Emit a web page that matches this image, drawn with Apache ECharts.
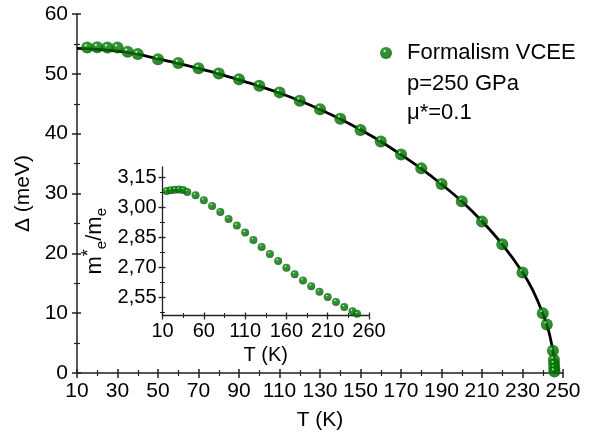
<!DOCTYPE html>
<html>
<head>
<meta charset="utf-8">
<script src="https://cdn.jsdelivr.net/npm/echarts@6/dist/echarts.min.js"></script>
<style>
html,body{margin:0;padding:0;background:#fff;}
#c{width:595px;height:434px;}
</style>
</head>
<body>
<div id="c"></div>
<script>
// ---- Main panel: gap Delta(T) ----
var mainT = [15, 20, 25, 30, 35, 40, 50, 60, 70, 80, 90, 100, 110, 120, 130, 140, 150, 160, 170, 180, 190, 200, 210, 220, 230, 240, 242, 245, 245.5, 245.6, 245.7, 245.75];
var mainDelta = [54.4, 54.45, 54.4, 54.4, 53.7, 53.3, 52.45, 51.8, 50.95, 50.05, 49.1, 48.0, 46.9, 45.5, 44.1, 42.5, 40.6, 38.7, 36.5, 34.2, 31.6, 28.7, 25.3, 21.5, 16.8, 10.0, 8.1, 3.7, 2.2, 1.5, 0.8, 0.25];

// ---- Fitted curve ----
var fitT = [10, 20, 30, 40, 50, 60, 70, 80, 90, 100, 110, 120, 130, 140, 150, 160, 170, 180, 190, 200, 210, 220, 230, 235, 240, 243, 245, 245.5, 245.8];
var fitDelta = [54.25, 54.1, 53.8, 53.3, 52.5, 51.75, 50.9, 50.0, 49.0, 47.95, 46.8, 45.5, 44.05, 42.45, 40.65, 38.7, 36.5, 34.15, 31.55, 28.7, 25.35, 21.5, 16.85, 13.9, 10.0, 6.9, 3.7, 2.3, 0];

// ---- Inset: effective mass ratio ----
var insetT = [15, 20, 25, 30, 35, 40, 50, 60, 70, 80, 90, 100, 110, 120, 130, 140, 150, 160, 170, 180, 190, 200, 210, 220, 230, 240, 245.5];
var insetMass = [3.081, 3.084, 3.087, 3.088, 3.086, 3.076, 3.059, 3.034, 3.006, 2.976, 2.941, 2.908, 2.873, 2.836, 2.801, 2.766, 2.731, 2.698, 2.666, 2.635, 2.606, 2.578, 2.552, 2.527, 2.502, 2.481, 2.469];

// ---- Tick labels ----
var insetYLabels = [2.55, 2.70, 2.85, 3.00, 3.15];
var insetYMinor = [2.475, 2.625, 2.775, 2.925, 3.075];

var FONT = "'Liberation Sans', Arial, sans-serif";
var AX = '#222';

function sphere() {
  return {
    type: 'radial', x: 0.38, y: 0.32, r: 0.72,
    colorStops: [
      {offset: 0, color: '#ffffff'},
      {offset: 0.07, color: '#c8e8c8'},
      {offset: 0.17, color: '#007e00'},
      {offset: 0.6, color: '#007000'},
      {offset: 1, color: '#004c00'}
    ]
  };
}

function pairs(xs, ys) {
  return xs.map(function (x, i) { return [x, ys[i]]; });
}

function baseAxis(o) {
  return Object.assign({
    type: 'value',
    splitLine: {show: false},
    axisLine: {show: true, lineStyle: {color: AX, width: 1.5}},
    axisTick: {show: true, inside: false, length: 5, lineStyle: {color: AX, width: 1.5}},
    minorTick: {show: true, splitNumber: 2, length: 3, lineStyle: {color: AX, width: 1.2}},
    axisLabel: {color: '#000', fontFamily: FONT}
  }, o);
}
function ghost(o) {
  // same scale and side, ticks drawn on the inner side so they cross the axis line
  return Object.assign({
    type: 'value',
    splitLine: {show: false},
    axisLine: {show: false},
    axisTick: {show: true, inside: true, length: 4, lineStyle: {color: AX, width: 1.5}},
    minorTick: {show: true, splitNumber: 2, length: 3, lineStyle: {color: AX, width: 1.2}},
    axisLabel: {show: false}
  }, o);
}

var chart = echarts.init(document.getElementById('c'), null, {renderer: 'canvas'});
chart.setOption({
  animation: false,
  backgroundColor: '#fff',
  textStyle: {fontFamily: FONT},
  grid: [
    {left: 77, top: 14, width: 486, height: 359, containLabel: false, outerBoundsMode: 'none'},
    {left: 162.5, top: 167, width: 206.5, height: 148.5, containLabel: false, outerBoundsMode: 'none'}
  ],
  legend: {
    data: ['Formalism VCEE'],
    left: 375, top: 37,
    itemWidth: 12, itemHeight: 12,
    textStyle: {fontSize: 22, color: '#000', fontFamily: FONT, padding: [0, 0, 0, 10]}
  },
  xAxis: [
    baseAxis({gridIndex: 0, position: 'bottom', min: 10, max: 250, interval: 20,
      axisLabel: {fontSize: 21, margin: 8, color: '#000', fontFamily: FONT},
      name: 'T (K)', nameLocation: 'middle', nameGap: 37,
      nameTextStyle: {fontSize: 21, color: '#000', fontFamily: FONT}}),
    ghost({gridIndex: 0, position: 'bottom', offset: 0, min: 10, max: 250, interval: 20}),
    baseAxis({gridIndex: 1, position: 'bottom', min: 10, max: 260, interval: 50,
      axisTick: {show: true, inside: false, length: 4, lineStyle: {color: AX, width: 1.3}},
      minorTick: {show: true, splitNumber: 2, length: 2.5, lineStyle: {color: AX, width: 1}},
      axisLine: {show: true, lineStyle: {color: AX, width: 1.3}},
      axisLabel: {fontSize: 20, margin: 6, color: '#000', fontFamily: FONT},
      name: 'T (K)', nameLocation: 'middle', nameGap: 30,
      nameTextStyle: {fontSize: 20, color: '#000', fontFamily: FONT}}),
    ghost({gridIndex: 1, position: 'bottom', offset: 0, min: 10, max: 260, interval: 50,
      axisTick: {show: true, inside: true, length: 3, lineStyle: {color: AX, width: 1.3}},
      minorTick: {show: true, splitNumber: 2, length: 2.5, lineStyle: {color: AX, width: 1}}})
  ],
  yAxis: [
    baseAxis({gridIndex: 0, position: 'left', min: 0, max: 60, interval: 10,
      axisLabel: {fontSize: 21, margin: 9, color: '#000', fontFamily: FONT},
      name: 'Δ (meV)', nameLocation: 'middle', nameGap: 43,
      nameTextStyle: {fontSize: 21, color: '#000', fontFamily: FONT}}),
    ghost({gridIndex: 0, position: 'left', offset: 0, min: 0, max: 60, interval: 10}),
    baseAxis({gridIndex: 1, position: 'left', min: 2.46, max: 3.2,
      axisLine: {show: true, lineStyle: {color: AX, width: 1.3}},
      axisTick: {show: true, inside: false, length: 4, customValues: insetYLabels, lineStyle: {color: AX, width: 1.3}},
      minorTick: {show: false},
      axisLabel: {fontSize: 20, margin: 6, color: '#000', fontFamily: FONT, customValues: insetYLabels,
        formatter: function (v) { return v.toFixed(2).replace('.', ','); }},
      name: '{m|m}{sup|*}{sub|e}{m|/m}{sub|e}', nameLocation: 'middle', nameGap: 51,
      nameTextStyle: {color: '#000', fontFamily: FONT, fontSize: 22,
        rich: {
          m: {fontSize: 22, fontFamily: FONT, color: '#000', lineHeight: 34, verticalAlign: 'middle'},
          sup: {fontSize: 18, fontFamily: FONT, color: '#000', lineHeight: 34, verticalAlign: 'middle', padding: [0, 0, 10, 0]},
          sub: {fontSize: 15, fontFamily: FONT, color: '#000', lineHeight: 34, verticalAlign: 'middle', padding: [14, 0, 0, 0]}
        }}}),
    ghost({gridIndex: 1, position: 'left', offset: 0, min: 2.46, max: 3.2,
      minorTick: {show: false},
      axisTick: {show: true, inside: true, length: 3, customValues: insetYLabels, lineStyle: {color: AX, width: 1.3}}}),
    ghost({gridIndex: 1, position: 'left', offset: 0, min: 2.46, max: 3.2,
      minorTick: {show: false},
      axisTick: {show: true, inside: false, length: 2.5, customValues: insetYMinor, lineStyle: {color: AX, width: 1}}}),
    ghost({gridIndex: 1, position: 'left', offset: 0, min: 2.46, max: 3.2,
      minorTick: {show: false},
      axisTick: {show: true, inside: true, length: 2.5, customValues: insetYMinor, lineStyle: {color: AX, width: 1}}})
  ],
  graphic: [
    {type: 'text', left: 407, top: 73, style: {text: 'p=250 GPa', font: '22px ' + FONT, fill: '#000'}},
    {type: 'text', left: 407, top: 102, style: {text: 'μ*=0.1', font: '22px ' + FONT, fill: '#000'}}
  ],
  series: [
    {
      type: 'line', name: 'fit', xAxisIndex: 0, yAxisIndex: 0,
      data: pairs(fitT, fitDelta), showSymbol: false, smooth: 0.3,
      lineStyle: {color: '#000', width: 2.8}, itemStyle: {color: '#000'}, z: 2
    },
    {
      type: 'scatter', name: 'Formalism VCEE', xAxisIndex: 0, yAxisIndex: 0,
      data: pairs(mainT, mainDelta), symbol: 'circle', symbolSize: 12,
      itemStyle: {color: sphere()}, z: 3
    },
    {
      type: 'scatter', name: 'inset', xAxisIndex: 2, yAxisIndex: 2,
      data: pairs(insetT, insetMass), symbol: 'circle', symbolSize: 8,
      itemStyle: {color: sphere()}, z: 3
    }
  ]
});
</script>
</body>
</html>
